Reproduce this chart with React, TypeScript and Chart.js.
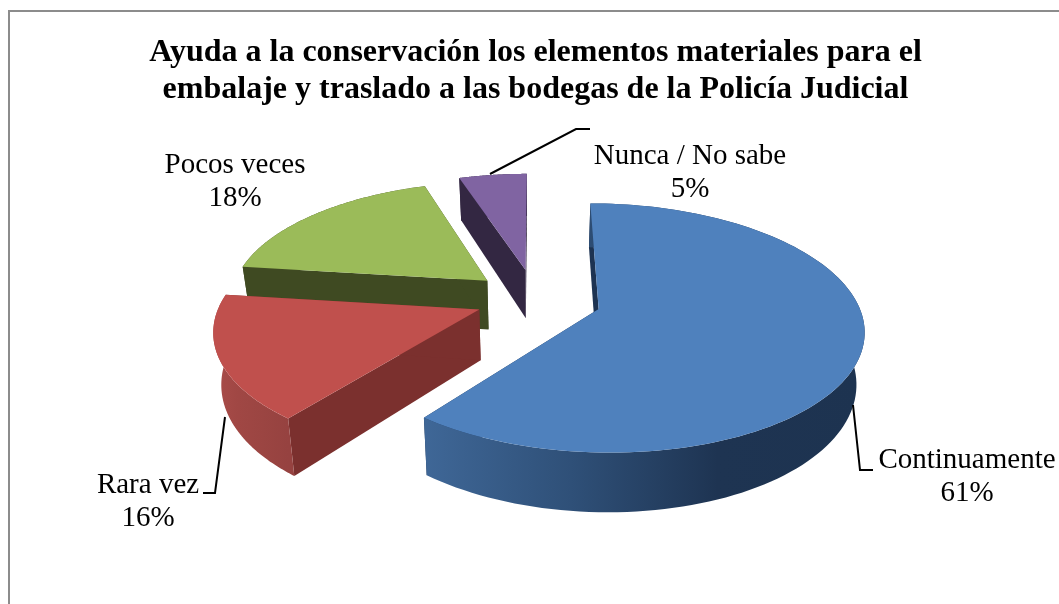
import React, { useEffect, useRef } from "react";
import { Chart, registerables } from "chart.js";

Chart.register(...registerables);

const categories = ["Continuamente", "Rara vez", "Pocos veces", "Nunca / No sabe"];
const values = [60.6, 16.4, 18, 5];
const explode = [264, 240, 256, 264];
const titleLines = [
  "Ayuda a la conservación los elementos materiales para el",
  "embalaje y traslado a las bodegas de la Policía Judicial",
];
const faceColors = ["#4f81bd", "#c0504d", "#9bbb59", "#8064a2"];
const sideColors = ["#1d3352", "#7b302e", "#3f4a22", "#332742"];
const rimStops = [
  ["#3f6797", "#2f5078", "#1e3452", "#1d3350"],
  ["#a94c49", "#a04744", "#9b4542", "#964240"],
  ["#3f4a22", "#3f4a22", "#3f4a22", "#3f4a22"],
  ["#332742", "#332742", "#332742", "#332742"],
];
const drawOrder = [3, 2, 1, 0];
const labelCenters = [
  [967, 460],
  [148, 485],
  [235, 165],
  [690, 156],
];
const leaderLines = [
  [[853, 405], [860, 470], [873, 470]],
  [[225, 417], [215, 493], [203, 493]],
  [],
  [[490, 174], [576, 129], [590, 129]],
];

const TILT = 0.46;
const PERSPECTIVE = 0.15;
const DEPTH = 50;
const DEPTH_SHRINK = 0.975;
const SERIF = '"Liberation Serif", serif';

const pie3d = {
  id: "pie3d",
  beforeDatasetsDraw(chart: any) {
    const ctx = chart.ctx;
    const arcs = chart.getDatasetMeta(0).data;
    const cx = arcs[0].x;
    const cy = arcs[0].y;
    const R = arcs[0].outerRadius;

    const project = (gx: number, gy: number, low: boolean) => {
      const f = 1 / (1 - (PERSPECTIVE * gy) / R);
      const s = low ? DEPTH_SHRINK : 1;
      return [cx + gx * f * s, cy + gy * TILT * f + (low ? DEPTH * f : 0)];
    };
    const fill = (pts: number[][], style: any) => {
      ctx.beginPath();
      pts.forEach((p, i) => (i ? ctx.lineTo(p[0], p[1]) : ctx.moveTo(p[0], p[1])));
      ctx.closePath();
      ctx.fillStyle = style;
      ctx.fill();
    };

    drawOrder.forEach((i) => {
      const arc = arcs[i];
      const mid = (arc.startAngle + arc.endAngle) / 2;
      const off = (arc.options.offset || 0) / 4;
      const ox = Math.cos(mid) * off;
      const oy = Math.sin(mid) * off;
      const n = 120;
      const top: number[][] = [];
      const low: number[][] = [];
      for (let k = 0; k <= n; k++) {
        const a = arc.startAngle + ((arc.endAngle - arc.startAngle) * k) / n;
        const gx = ox + Math.cos(a) * R;
        const gy = oy + Math.sin(a) * R;
        top.push(project(gx, gy, false));
        low.push(project(gx, gy, true));
      }
      const apex = project(ox, oy, false);
      const apexLow = project(ox, oy, true);

      fill([apex, top[0], low[0], apexLow], sideColors[i]);
      fill([apex, top[n], low[n], apexLow], sideColors[i]);

      const xs = top.map((p) => p[0]);
      const minX = Math.min(...xs);
      const maxX = Math.max(...xs);
      const g = ctx.createLinearGradient(minX, 0, maxX, 0);
      rimStops[i].forEach((c, k) => g.addColorStop(k / 3, c));
      fill([...top, ...low.slice().reverse()], g);

      fill([apex, ...top], arc.options.backgroundColor);
    });
    return false;
  },
  afterDraw(chart: any) {
    const ctx = chart.ctx;
    ctx.save();
    ctx.strokeStyle = "#8c8c8c";
    ctx.lineWidth = 2;
    ctx.beginPath();
    ctx.moveTo(1059, 11);
    ctx.lineTo(9, 11);
    ctx.lineTo(9, 604);
    ctx.stroke();

    ctx.strokeStyle = "#000";
    ctx.lineWidth = 2;
    leaderLines.forEach((line) => {
      if (!line.length) return;
      ctx.beginPath();
      line.forEach((p, i) => (i ? ctx.lineTo(p[0], p[1]) : ctx.moveTo(p[0], p[1])));
      ctx.stroke();
    });

    const total = values.reduce((a, b) => a + b, 0);
    ctx.fillStyle = "#000";
    ctx.font = `29px ${SERIF}`;
    ctx.textAlign = "center";
    ctx.textBaseline = "middle";
    categories.forEach((c, i) => {
      const [x, y] = labelCenters[i];
      ctx.fillText(c, x, y);
      ctx.fillText(`${Math.round((values[i] / total) * 100)}%`, x, y + 33);
    });
    ctx.restore();
  },
};

export default function App() {
  const ref = useRef<HTMLCanvasElement>(null);
  useEffect(() => {
    const chart = new Chart(ref.current as HTMLCanvasElement, {
      type: "pie",
      data: {
        labels: categories,
        datasets: [
          {
            data: values,
            backgroundColor: faceColors,
            borderWidth: 0,
            offset: explode,
          },
        ],
      },
      options: {
        animation: false,
        responsive: false,
        devicePixelRatio: 1,
        radius: 258,
        layout: { padding: { left: 12, bottom: 114 } },
        plugins: {
          legend: { display: false },
          tooltip: { enabled: false },
          title: {
            display: true,
            text: titleLines,
            color: "#000",
            font: { family: SERIF, size: 32, weight: "bold", lineHeight: 37 / 32 },
            padding: { top: 34, bottom: 0 },
          },
        },
      },
      plugins: [pie3d],
    } as any);
    return () => chart.destroy();
  }, []);
  return (
    <div style={{ position: "fixed", left: 0, top: 0, width: 1059, height: 604, background: "#fff" }}>
      <canvas ref={ref} width={1059} height={604} style={{ display: "block" }} />
    </div>
  );
}
